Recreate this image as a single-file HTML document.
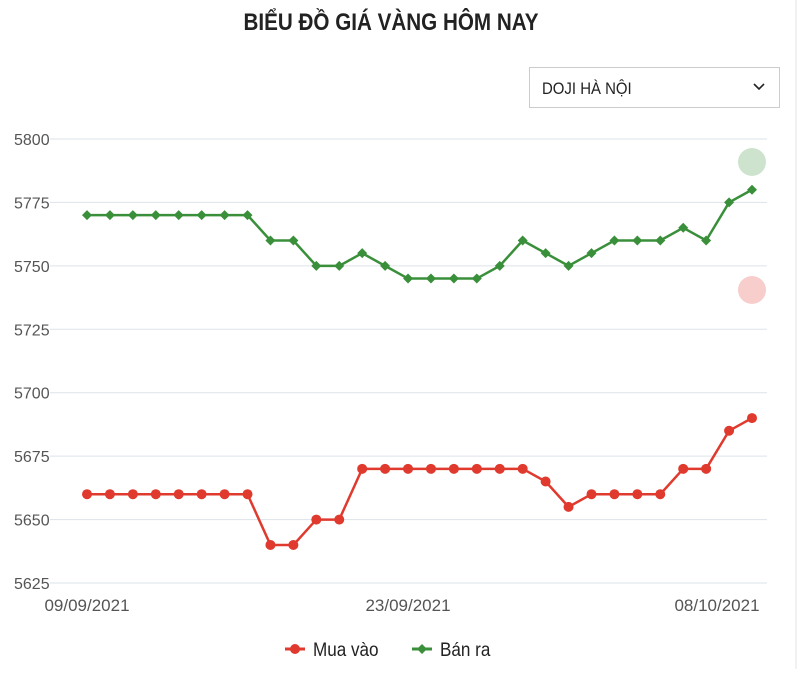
<!DOCTYPE html>
<html><head><meta charset="utf-8"><style>
body{margin:0;width:800px;height:669px;background:#fff;overflow:hidden;font-family:"Liberation Sans",sans-serif}
</style></head><body>
<svg id="s" width="800" height="669" xmlns="http://www.w3.org/2000/svg" font-family="Liberation Sans, sans-serif">
<line x1="796" y1="0" x2="796" y2="669" stroke="#e6e6e6"/>
<text x="391" y="30" text-anchor="middle" font-size="24" font-weight="bold" fill="#222" transform="translate(391 0) scale(0.86 1) translate(-391 0)">BIỂU ĐỒ GIÁ VÀNG HÔM NAY</text>
<rect x="529.5" y="67.5" width="250" height="40" fill="#fff" stroke="#ccc"/>
<text x="542" y="94" font-size="17" fill="#222" transform="translate(542 0) scale(0.88 1) translate(-542 0)">DOJI HÀ NỘI</text>
<path d="M754 84 l5 5 l5 -5" fill="none" stroke="#222" stroke-width="1.6"/>
<g id="g"></g>
<circle cx="752" cy="162" r="14" fill="#3a8f3a" opacity="0.25"/>
<circle cx="752" cy="290" r="14" fill="#e03a2e" opacity="0.25"/>
<g font-size="17" fill="#555">
<text x="87" y="611" text-anchor="middle">09/09/2021</text>
<text x="408" y="611" text-anchor="middle">23/09/2021</text>
<text x="717" y="611" text-anchor="middle">08/10/2021</text>
</g>
<line x1="285" y1="649" x2="305" y2="649" stroke="#e03a2e" stroke-width="3"/>
<circle cx="295" cy="649" r="5" fill="#e03a2e"/>
<text x="313" y="656" font-size="19" fill="#222" transform="translate(313 0) scale(0.9 1) translate(-313 0)">Mua vào</text>
<line x1="412" y1="649" x2="432" y2="649" stroke="#3a8f3a" stroke-width="3"/>
<path d="M422 644 l5 5 l-5 5 l-5 -5z" fill="#3a8f3a"/>
<text x="440" y="656" font-size="19" fill="#222" transform="translate(440 0) scale(0.9 1) translate(-440 0)">Bán ra</text>
</svg>
<script>
var g=document.getElementById('g'),h='';
function Y(v){return 583-(v-5625)*(444/175);}
for(var v=5625;v<=5800;v+=25){var y=Y(v);h+='<line x1="50" x2="767" y1="'+y+'" y2="'+y+'" stroke="#dde3ea"/>';h+='<text x="14" y="'+(y+6)+'" font-size="16" fill="#555">'+v+'</text>';}
var G=[5770,5770,5770,5770,5770,5770,5770,5770,5760,5760,5750,5750,5755,5750,5745,5745,5745,5745,5750,5760,5755,5750,5755,5760,5760,5760,5765,5760,5775,5780];
var R=[5660,5660,5660,5660,5660,5660,5660,5660,5640,5640,5650,5650,5670,5670,5670,5670,5670,5670,5670,5670,5665,5655,5660,5660,5660,5660,5670,5670,5685,5690];
function X(i){return 87+i*665/29;}
var pg='',pr='';
for(var i=0;i<30;i++){pg+=(i?'L':'M')+X(i)+' '+Y(G[i]);pr+=(i?'L':'M')+X(i)+' '+Y(R[i]);}
h+='<path d="'+pr+'" fill="none" stroke="#e03a2e" stroke-width="2.5"/>';
h+='<path d="'+pg+'" fill="none" stroke="#3a8f3a" stroke-width="2.5"/>';
for(var i=0;i<30;i++){h+='<circle cx="'+X(i)+'" cy="'+Y(R[i])+'" r="5" fill="#e03a2e"/>';
var x=X(i),y=Y(G[i]);h+='<path d="M'+x+' '+(y-5)+'l5 5l-5 5l-5 -5z" fill="#3a8f3a"/>';}
g.innerHTML=h;
</script>
</body></html>
